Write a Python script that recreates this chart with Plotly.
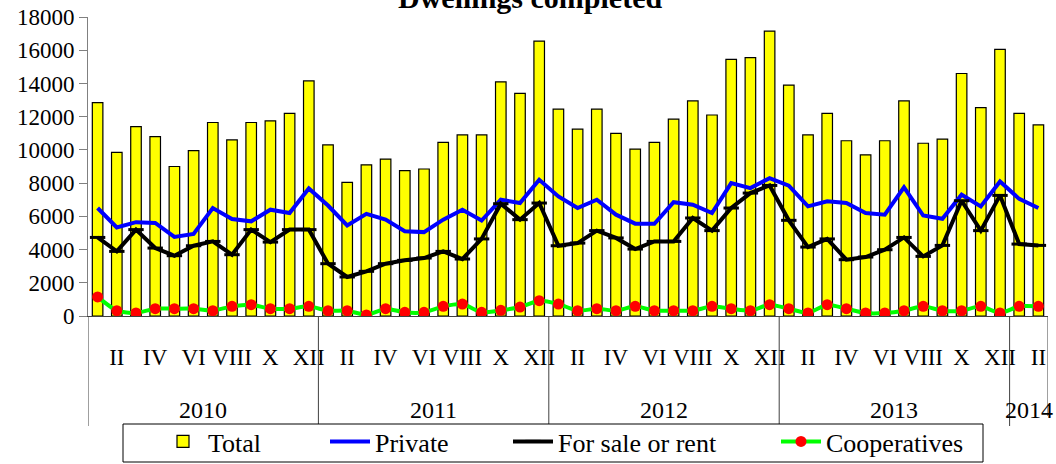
import plotly.graph_objects as go

# ---- data (monthly, 2010 I .. 2014 II) ----
years = ["2010", "2011", "2012", "2013", "2014"]
months_per_year = [12, 12, 12, 12, 2]
roman = ["I", "II", "III", "IV", "V", "VI", "VII", "VIII", "IX", "X", "XI", "XII"]

total = [12850, 9850, 11400, 10800, 9000, 9950, 11650, 10600, 11650, 11750, 12200, 14150,
         10300, 8050, 9100, 9450, 8750, 8850, 10450, 10900, 10900, 14100, 13400, 16550,
         12450, 11250, 12450, 11000, 10050, 10450, 11850, 12950, 12100, 15450, 15550, 17150,
         13900, 10900, 12200, 10550, 9700, 10550, 12950, 10400, 10650, 14600, 12550, 16050,
         12200, 11500]
private = [6500, 5330, 5650, 5600, 4760, 4940, 6500, 5840, 5700, 6400, 6200, 7680,
           6650, 5450, 6150, 5800, 5100, 5050, 5800, 6400, 5750, 7000, 6800, 8200,
           7200, 6500, 7000, 6100, 5560, 5550, 6850, 6700, 6200, 8000, 7700, 8300,
           7850, 6600, 6900, 6800, 6200, 6100, 7750, 6050, 5850, 7300, 6600, 8100,
           7050, 6500]
for_sale = [4730, 3890, 5200, 4090, 3630, 4230, 4490, 3690, 5200, 4450, 5200, 5200,
            3150, 2350, 2690, 3150, 3350, 3490, 3890, 3430, 4640, 6760, 5800, 6800,
            4230, 4390, 5140, 4700, 4030, 4490, 4490, 5900, 5140, 6500, 7400, 7860,
            5760, 4150, 4640, 3390, 3550, 3990, 4730, 3590, 4250, 6940, 5140, 7260,
            4330, 4250]
coops = [1150, 320, 180, 440, 440, 440, 320, 580, 680, 440, 440, 580,
         320, 320, 60, 440, 220, 220, 580, 720, 220, 340, 540, 920,
         720, 320, 440, 320, 580, 320, 320, 320, 580, 440, 320, 680,
         440, 180, 680, 440, 180, 180, 320, 580, 320, 320, 580, 180,
         580, 580]

FONT = "Liberation Serif"

# plot area in pixels (used to convert pixel spots to paper coords)
L, R, T, B = 88, 1048, 17, 316


def px_x(p):
    return (p - L) / (R - L)


def px_y(p):
    return (B - p) / (B - T)


x = list(range(len(total)))
labels = []
for n in months_per_year:
    labels += roman[:n]
tick_vals = [i for i, m in enumerate(labels) if roman.index(m) % 2 == 1]
tick_text = [labels[i] for i in tick_vals]

fig = go.Figure()
fig.add_trace(go.Bar(
    x=x, y=total, name="Total", width=0.55, legend="legend",
    marker=dict(color="#FFFF00", line=dict(color="black", width=1.2)),
))
fig.add_trace(go.Scatter(
    x=x, y=private, name="Private", mode="lines", legend="legend2",
    line=dict(color="#0000FF", width=4),
))
fig.add_trace(go.Scatter(
    x=x, y=for_sale, name="For sale or rent", mode="lines+markers", legend="legend3",
    line=dict(color="black", width=4),
    marker=dict(symbol="line-ew", size=11, line=dict(color="black", width=3)),
))
fig.add_trace(go.Scatter(
    x=x, y=coops, name="Cooperatives", mode="lines+markers", legend="legend4",
    line=dict(color="#00FF00", width=4, shape="spline", smoothing=0.6),
    marker=dict(color="#FF0000", size=11),
))

# year separators and labels under the axis
start = 0
for yr, n in zip(years, months_per_year):
    fig.add_annotation(x=start + (n - 1) / 2, y=px_y(410), xref="x", yref="paper",
                       text=yr, showarrow=False, yanchor="middle",
                       font=dict(family=FONT, size=24, color="black"))
    fig.add_shape(type="line", xref="x", yref="paper", x0=start - 0.5, x1=start - 0.5,
                  y0=0, y1=px_y(426), line=dict(color="#404040", width=1))
    start += n
fig.add_shape(type="line", xref="x", yref="paper", x0=start - 0.5, x1=start - 0.5,
              y0=0, y1=px_y(416), line=dict(color="#404040", width=1))

# legend frame
fig.add_shape(type="rect", xref="paper", yref="paper",
              x0=px_x(123), x1=px_x(983), y0=px_y(424), y1=px_y(462),
              line=dict(color="black", width=1), fillcolor="white", layer="above")

# title (partly cut at the top, as in the original)
fig.add_annotation(x=px_x(530), y=1.005, xref="paper", yref="paper",
                   text="<b>Dwellings completed</b>", showarrow=False, yanchor="bottom",
                   font=dict(family=FONT, size=30, color="black"))


def legend_at(px):
    return dict(orientation="h", x=px_x(px), xanchor="left", y=px_y(418), yanchor="top",
                font=dict(family=FONT, size=26, color="black"),
                bgcolor="rgba(0,0,0,0)", borderwidth=0, itemwidth=40)


fig.update_layout(
    width=1056, height=464,
    margin=dict(l=L, r=1056 - R, t=T, b=464 - B, autoexpand=False),
    plot_bgcolor="white", paper_bgcolor="white",
    font=dict(family=FONT, color="black"),
    showlegend=True,
    legend=legend_at(158),
    legend2=legend_at(325),
    legend3=legend_at(508),
    legend4=legend_at(776),
)
fig.update_xaxes(
    range=[-0.5, len(total) - 0.5], tickvals=tick_vals, ticktext=tick_text,
    ticks="", showline=True, linecolor="#404040", linewidth=1, showgrid=False,
    zeroline=False, tickfont=dict(family=FONT, size=23, color="black"),
    ticklabelstandoff=20,
)
fig.update_yaxes(
    range=[0, 18000], dtick=2000, tickformat="d", ticks="outside", ticklen=8,
    tickcolor="#808080", showline=True, linecolor="#808080", linewidth=1,
    showgrid=False, zeroline=False,
    tickfont=dict(family=FONT, size=23, color="black"),
)

# the page's default body margin would shift the figure by 8px
fig.write_html("out.html", config={"displayModeBar": False},
               post_script="document.body.style.margin='0';")
